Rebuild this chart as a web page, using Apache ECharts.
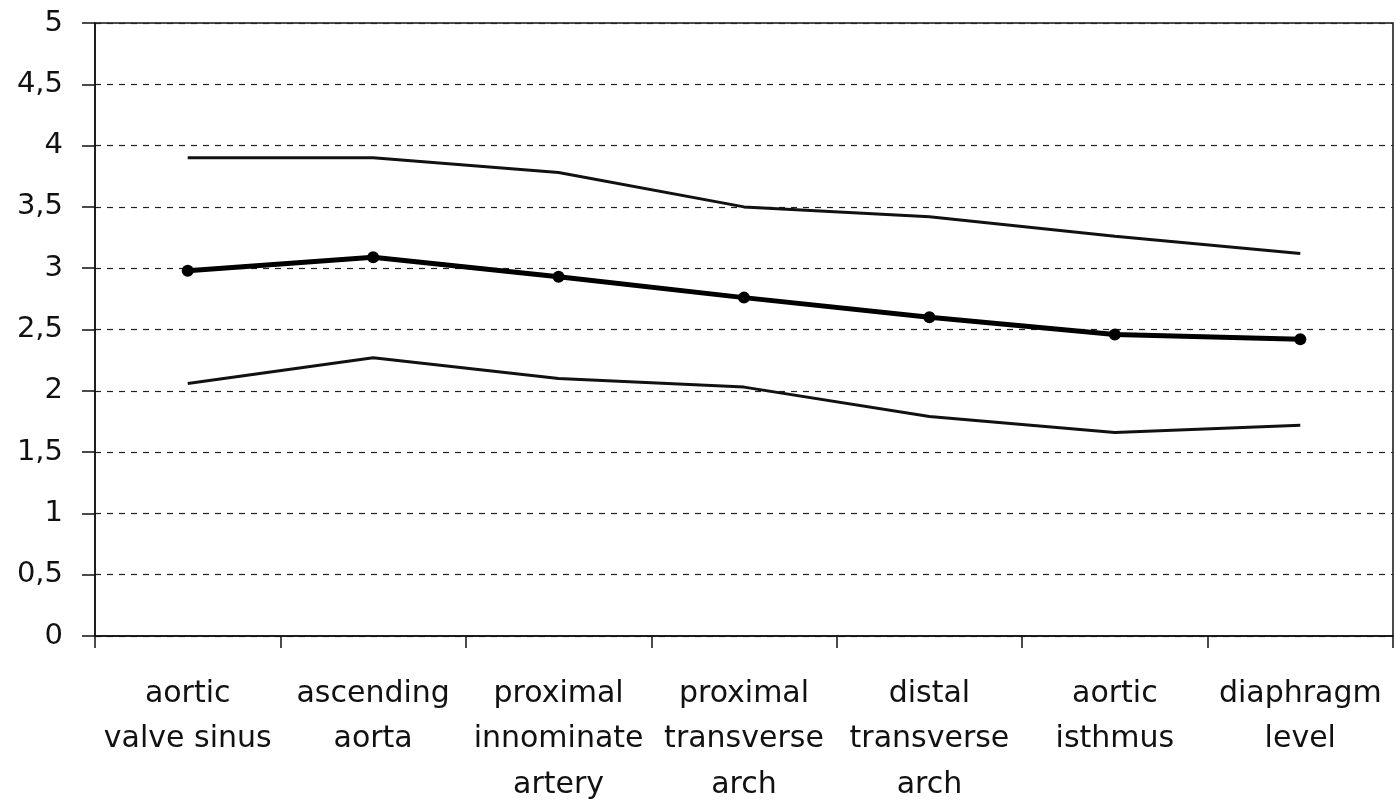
<!DOCTYPE html>
<html>
<head>
<meta charset="utf-8">
<script src="https://cdn.jsdelivr.net/npm/echarts@6/dist/echarts.min.js"></script>
<style>
html,body{margin:0;padding:0;background:#fff;}
#chart{width:1396px;height:801px;}
</style>
</head>
<body>
<div id="chart"></div>
<script>
const categories = [
  "aortic\nvalve sinus",
  "ascending\naorta",
  "proximal\ninnominate\nartery",
  "proximal\ntransverse\narch",
  "distal\ntransverse\narch",
  "aortic\nisthmus",
  "diaphragm\nlevel"
];
const upperValues = [3.9, 3.9, 3.78, 3.5, 3.42, 3.26, 3.12];
const meanValues  = [2.98, 3.09, 2.93, 2.76, 2.6, 2.46, 2.42];
const lowerValues = [2.06, 2.27, 2.1, 2.03, 1.79, 1.66, 1.72];
const yMin = 0, yMax = 5, yStep = 0.5;

const chart = echarts.init(document.getElementById('chart'), null, {renderer: 'canvas'});
const font = '"DejaVu Sans", sans-serif';
chart.setOption({
  backgroundColor: '#ffffff',
  animation: false,
  grid: {
    left: 95, right: 3, top: 23, bottom: 165,
    outerBoundsMode: 'none', containLabel: false,
    show: true, borderColor: '#111', borderWidth: 1.5, backgroundColor: 'transparent'
  },
  xAxis: {
    type: 'category',
    data: categories,
    boundaryGap: true,
    axisLine: {lineStyle: {color: '#111', width: 1.5}},
    axisTick: {show: true, length: 12, lineStyle: {color: '#111', width: 1.5}},
    axisLabel: {
      color: '#111', fontFamily: font, fontSize: 30, lineHeight: 45.5, margin: 35,
      interval: 0, verticalAlign: 'top'
    },
    splitLine: {show: false}
  },
  yAxis: {
    type: 'value',
    min: yMin, max: yMax, interval: yStep,
    axisLine: {show: true, lineStyle: {color: '#111', width: 1.5}},
    axisTick: {show: true, length: 13, lineStyle: {color: '#111', width: 1.5}},
    axisLabel: {
      color: '#111', fontFamily: font, fontSize: 29, margin: 32,
      formatter: v => String(v).replace('.', ',')
    },
    splitLine: {show: true, lineStyle: {color: '#222', type: [6, 6], width: 1.2}}
  },
  series: [
    {
      name: 'upper', type: 'line', data: upperValues, symbol: 'none',
      lineStyle: {color: '#111', width: 3}
    },
    {
      name: 'mean', type: 'line', data: meanValues, symbol: 'circle', symbolSize: 12,
      itemStyle: {color: '#000'},
      lineStyle: {color: '#000', width: 5}
    },
    {
      name: 'lower', type: 'line', data: lowerValues, symbol: 'none',
      lineStyle: {color: '#111', width: 3}
    }
  ]
});
</script>
</body>
</html>
